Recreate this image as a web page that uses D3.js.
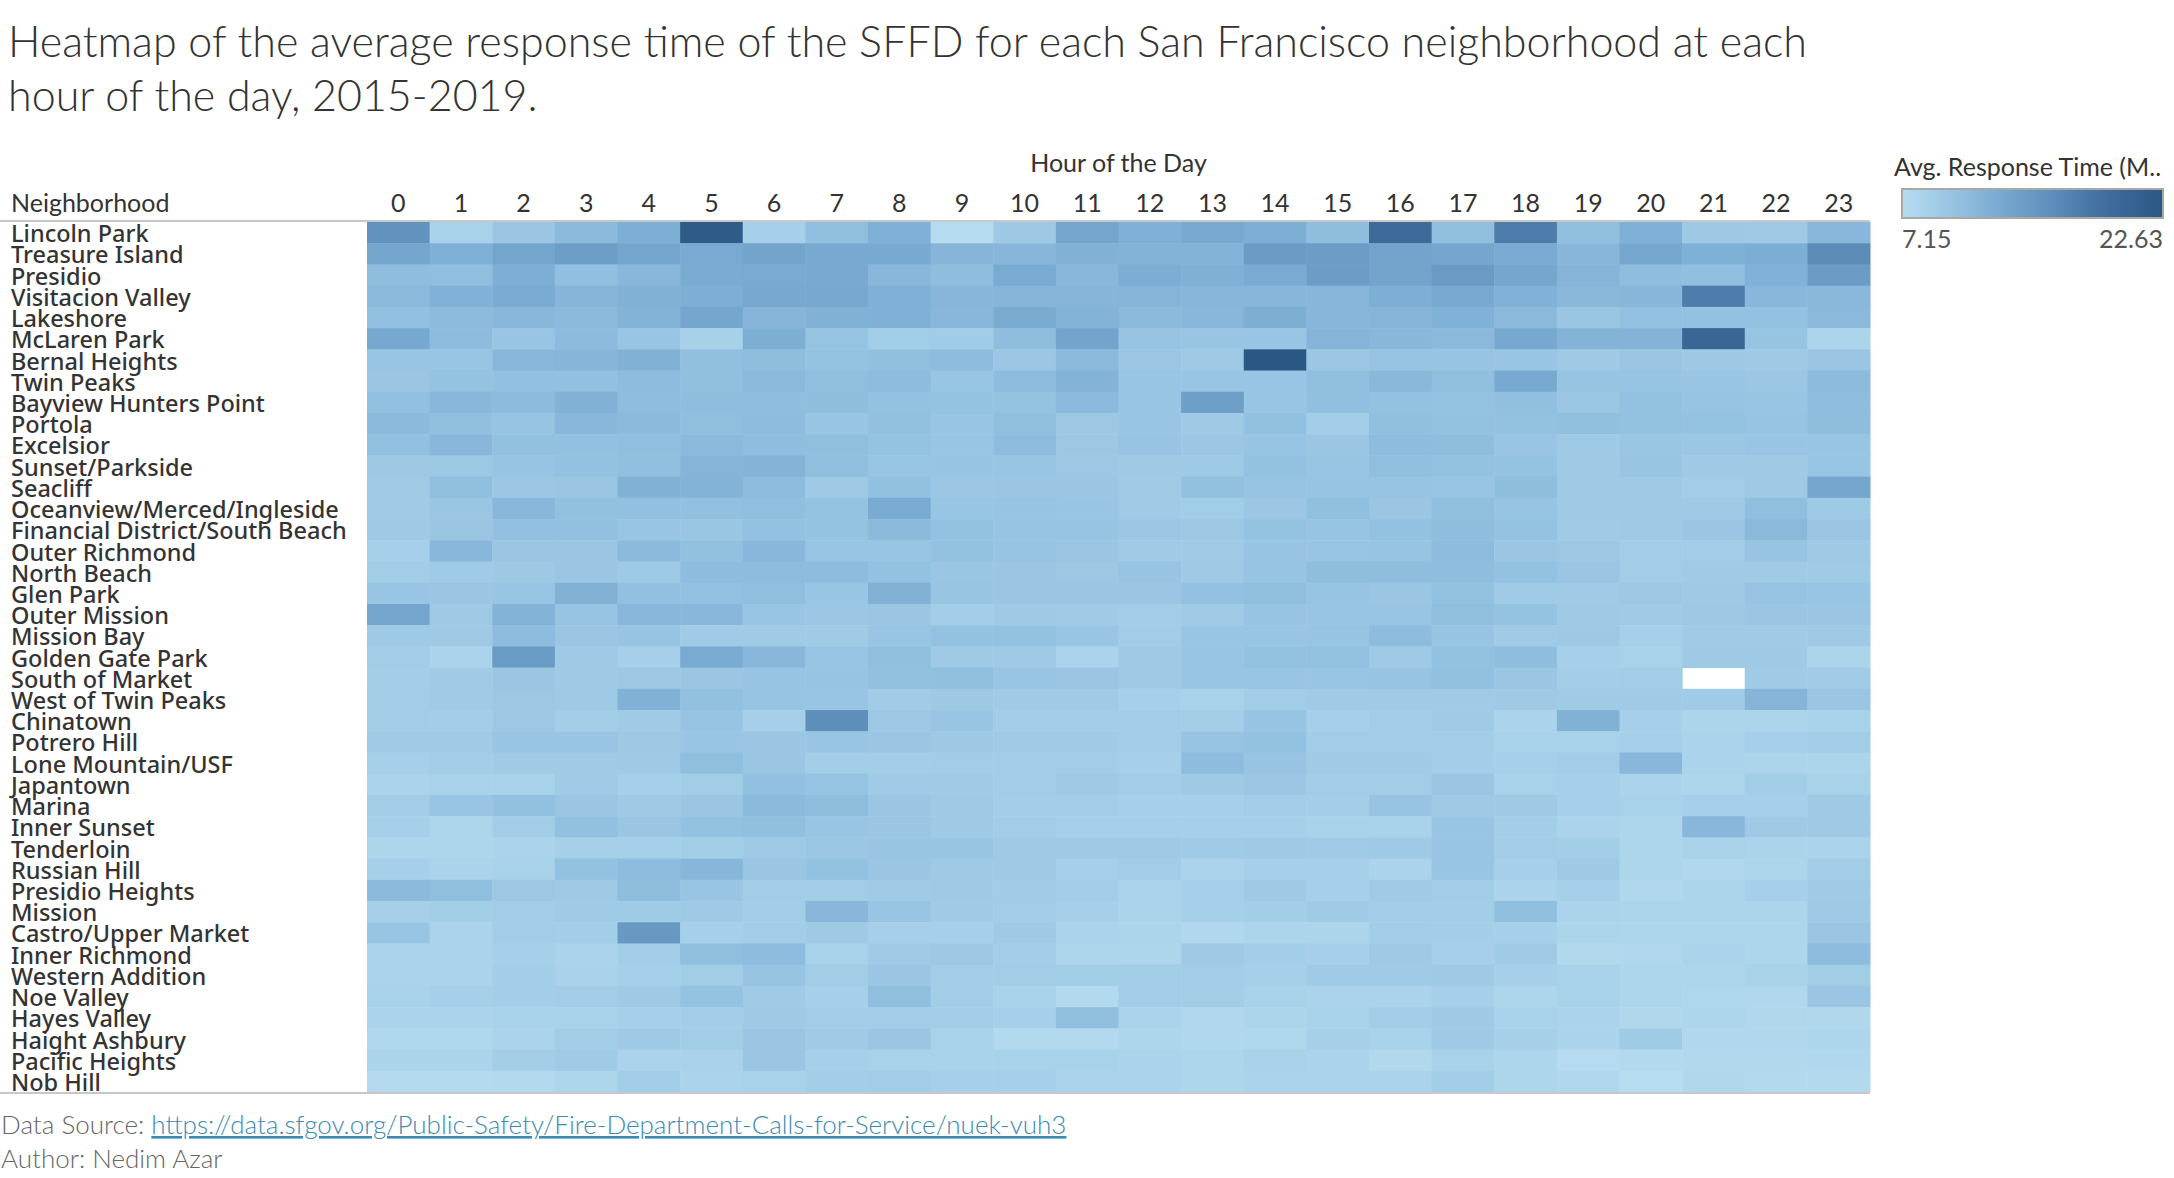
<!DOCTYPE html>
<html>
<head>
<meta charset="utf-8">
<script src="https://cdn.jsdelivr.net/npm/d3@7"></script>
<style>
  body { margin: 0; background: #fff; }
  svg { display: block; }
</style>
</head>
<body>
<svg id="chart"></svg>
<script>
var width = 2174,
    height = 1178;

var neighborhoods = [
    "Lincoln Park", "Treasure Island", "Presidio", "Visitacion Valley", "Lakeshore",
    "McLaren Park", "Bernal Heights", "Twin Peaks", "Bayview Hunters Point", "Portola",
    "Excelsior", "Sunset/Parkside", "Seacliff", "Oceanview/Merced/Ingleside",
    "Financial District/South Beach", "Outer Richmond", "North Beach", "Glen Park",
    "Outer Mission", "Mission Bay", "Golden Gate Park", "South of Market",
    "West of Twin Peaks", "Chinatown", "Potrero Hill", "Lone Mountain/USF", "Japantown",
    "Marina", "Inner Sunset", "Tenderloin", "Russian Hill", "Presidio Heights", "Mission",
    "Castro/Upper Market", "Inner Richmond", "Western Addition", "Noe Valley",
    "Hayes Valley", "Haight Ashbury", "Pacific Heights", "Nob Hill"
];

var hourLabels = ["0", "1", "2", "3", "4", "5", "6", "7", "8", "9", "10", "11",
    "12", "13", "14", "15", "16", "17", "18", "19", "20", "21", "22", "23"];

// avg response time (minutes), one row per neighborhood, one value per hour
var responseTimes = [
    [15.5, 8.5, 9.8, 11.2, 12.5, 22.0, 8.7, 10.8, 12.3, 7.3, 9.5, 13.5, 12.3, 13.0, 12.5, 10.9, 19.8, 10.8, 17.8, 10.8, 12.3, 9.5, 9.4, 11.5],
    [13.5, 12.3, 13.5, 14.3, 13.5, 12.9, 13.6, 13.0, 13.0, 11.7, 11.6, 12.1, 12.0, 12.0, 14.6, 14.4, 13.6, 13.4, 12.9, 11.6, 13.2, 12.3, 12.6, 16.3],
    [10.9, 10.8, 12.5, 10.6, 11.5, 12.8, 12.9, 13.0, 11.5, 10.9, 12.9, 11.5, 12.6, 12.3, 12.9, 14.4, 13.6, 14.6, 13.4, 11.8, 10.9, 10.7, 12.2, 14.5],
    [11.2, 12.2, 12.8, 11.7, 12.1, 12.5, 13.1, 13.1, 12.3, 11.6, 11.7, 11.7, 11.8, 11.6, 11.6, 11.6, 12.5, 13.0, 12.2, 11.4, 11.6, 17.8, 11.5, 11.4],
    [10.5, 11.1, 11.5, 11.2, 12.0, 13.4, 11.7, 12.1, 12.3, 11.5, 12.8, 11.9, 11.3, 11.5, 12.5, 11.6, 11.8, 12.2, 11.3, 9.8, 10.4, 10.4, 10.4, 11.3],
    [13.1, 11.0, 10.0, 11.1, 10.0, 8.6, 12.5, 10.2, 9.0, 9.1, 10.9, 13.6, 10.1, 10.0, 10.0, 11.8, 11.5, 11.3, 13.1, 12.0, 12.0, 20.3, 10.1, 8.2],
    [10.0, 10.0, 11.5, 11.7, 12.1, 10.6, 10.9, 10.3, 10.7, 11.0, 9.7, 11.3, 9.7, 9.3, 22.63, 9.7, 10.1, 10.1, 10.0, 9.3, 9.8, 9.5, 9.4, 9.8],
    [9.8, 10.3, 10.5, 10.5, 11.0, 10.7, 11.3, 10.8, 11.0, 10.0, 11.0, 11.9, 10.0, 10.0, 10.0, 10.8, 11.4, 10.8, 13.0, 10.1, 10.1, 10.0, 9.7, 11.1],
    [10.5, 11.5, 11.1, 12.1, 10.9, 10.9, 10.9, 10.9, 10.4, 10.3, 10.3, 11.2, 10.0, 14.2, 10.0, 10.6, 10.4, 10.3, 10.6, 9.7, 10.4, 10.1, 10.0, 10.9],
    [11.2, 10.7, 10.1, 11.5, 11.2, 10.8, 11.0, 10.0, 10.5, 10.0, 10.8, 9.6, 10.0, 9.4, 10.5, 8.9, 10.7, 10.4, 10.4, 10.7, 10.4, 10.3, 10.1, 10.9],
    [10.5, 11.5, 10.5, 10.5, 10.8, 11.2, 10.9, 10.8, 10.3, 10.0, 11.0, 9.6, 10.1, 9.7, 10.1, 9.8, 11.0, 10.9, 10.0, 9.4, 9.8, 9.7, 10.0, 10.0],
    [9.6, 9.6, 10.1, 10.4, 10.6, 11.8, 11.9, 10.8, 10.0, 10.1, 10.0, 9.6, 9.4, 9.4, 10.4, 10.0, 10.6, 10.4, 10.3, 9.4, 10.0, 9.4, 9.4, 10.0],
    [9.2, 10.8, 9.7, 9.8, 12.1, 11.9, 11.0, 9.4, 10.5, 9.7, 9.8, 9.8, 9.2, 10.5, 10.1, 10.1, 10.1, 10.0, 10.9, 9.4, 9.4, 9.0, 9.3, 13.3],
    [9.2, 9.8, 11.5, 10.5, 10.5, 10.5, 10.8, 10.3, 12.9, 10.0, 10.1, 10.0, 9.2, 9.0, 9.7, 10.7, 9.8, 10.8, 10.1, 9.4, 9.4, 9.4, 10.8, 9.4],
    [9.4, 9.8, 10.5, 10.5, 10.0, 9.8, 10.4, 10.3, 11.2, 10.4, 10.1, 10.1, 9.7, 9.6, 10.3, 10.1, 10.4, 10.9, 10.3, 9.2, 9.4, 9.8, 11.3, 9.8],
    [8.7, 11.5, 9.8, 9.8, 11.2, 10.5, 11.5, 10.0, 10.0, 10.4, 10.1, 9.8, 9.2, 9.2, 10.1, 10.0, 10.1, 11.0, 9.8, 9.6, 9.0, 9.0, 10.1, 9.4],
    [9.0, 9.2, 9.5, 9.8, 9.4, 11.0, 11.0, 11.0, 10.4, 9.8, 9.8, 9.6, 10.1, 9.4, 10.1, 10.9, 10.9, 10.9, 10.4, 9.8, 9.0, 9.2, 9.2, 9.2],
    [10.0, 9.8, 10.0, 12.1, 10.5, 10.4, 10.8, 10.0, 12.1, 10.0, 9.8, 9.8, 9.8, 10.4, 10.8, 10.1, 9.8, 10.4, 9.2, 9.2, 9.6, 9.4, 10.1, 10.0],
    [13.5, 9.4, 12.0, 10.1, 11.5, 11.5, 10.0, 9.7, 9.8, 8.9, 9.4, 9.2, 9.0, 9.2, 10.1, 10.0, 10.0, 10.8, 10.3, 9.4, 9.2, 9.6, 9.8, 9.8],
    [9.4, 9.4, 11.0, 9.8, 10.1, 9.2, 9.2, 9.2, 10.0, 10.4, 10.4, 10.0, 9.0, 10.0, 10.0, 10.1, 11.0, 10.1, 9.2, 9.5, 8.7, 9.2, 9.2, 9.4],
    [9.0, 8.3, 14.5, 9.3, 8.7, 12.9, 11.5, 10.0, 10.8, 9.4, 9.4, 8.3, 9.4, 10.0, 10.4, 10.4, 9.4, 10.4, 10.9, 8.7, 8.5, 9.4, 9.4, 8.2],
    [8.9, 9.2, 9.8, 9.4, 9.6, 9.8, 10.1, 10.1, 10.5, 10.7, 10.0, 9.8, 9.4, 10.0, 10.0, 10.0, 10.1, 10.5, 9.8, 8.9, 9.0, null, 9.2, 9.1],
    [9.0, 9.2, 9.6, 9.4, 12.1, 10.5, 10.1, 10.0, 9.1, 9.5, 9.2, 9.2, 8.7, 8.5, 9.0, 9.2, 9.2, 9.2, 9.4, 9.2, 9.2, 9.2, 11.8, 9.8],
    [9.0, 8.9, 9.6, 8.9, 9.2, 10.1, 8.7, 16.0, 9.6, 10.0, 9.0, 9.0, 9.0, 8.9, 10.1, 8.7, 9.0, 9.2, 8.3, 12.1, 8.7, 8.2, 8.2, 8.5],
    [9.2, 9.2, 10.0, 10.0, 9.5, 10.0, 9.8, 10.0, 9.8, 9.5, 9.2, 9.2, 9.0, 10.1, 10.4, 9.0, 9.0, 9.0, 8.5, 8.5, 8.7, 8.3, 8.7, 9.0],
    [8.7, 9.0, 9.2, 9.2, 9.4, 10.8, 9.8, 8.9, 8.9, 9.0, 9.0, 9.0, 8.7, 11.0, 10.1, 9.2, 9.2, 8.9, 8.7, 9.0, 11.5, 8.3, 8.2, 8.2],
    [8.3, 8.5, 8.5, 9.2, 8.7, 9.0, 10.5, 10.2, 9.2, 9.2, 9.0, 9.4, 9.0, 9.4, 9.7, 9.0, 9.0, 9.8, 8.5, 8.7, 8.3, 8.1, 8.9, 8.5],
    [9.0, 10.0, 10.5, 9.8, 9.4, 9.8, 11.2, 10.9, 9.8, 9.4, 8.9, 8.9, 8.7, 8.7, 9.0, 8.9, 10.1, 9.4, 9.4, 8.7, 8.5, 8.7, 8.7, 9.4],
    [8.7, 8.1, 9.0, 10.5, 9.8, 10.4, 10.7, 10.0, 9.8, 9.4, 9.0, 8.7, 8.7, 8.7, 8.7, 8.5, 8.5, 10.0, 8.9, 8.3, 8.1, 11.5, 9.4, 9.4],
    [8.1, 8.1, 8.3, 8.7, 8.7, 8.9, 9.4, 9.7, 10.0, 10.0, 9.4, 9.4, 9.4, 9.2, 9.4, 9.2, 9.4, 10.0, 9.0, 8.9, 8.1, 8.5, 8.3, 8.3],
    [8.7, 8.3, 8.5, 10.4, 11.0, 11.6, 9.8, 10.4, 9.8, 9.4, 9.4, 8.7, 9.0, 8.3, 8.7, 8.7, 8.3, 10.0, 8.7, 9.4, 8.1, 7.9, 8.1, 9.0],
    [11.2, 10.8, 9.6, 9.4, 10.9, 10.0, 9.0, 9.0, 9.2, 9.4, 9.1, 9.0, 8.3, 8.7, 9.4, 8.7, 9.2, 9.0, 8.3, 8.7, 7.9, 8.2, 8.7, 9.2],
    [8.7, 8.9, 9.0, 9.2, 9.2, 9.4, 8.9, 11.5, 10.0, 9.2, 9.0, 8.7, 8.3, 8.7, 8.9, 9.2, 8.9, 8.9, 10.8, 8.3, 8.2, 8.2, 8.2, 9.4],
    [10.0, 8.3, 9.0, 8.9, 14.8, 8.7, 9.0, 9.4, 8.7, 8.7, 9.4, 8.3, 8.2, 7.9, 8.2, 8.2, 9.0, 8.9, 8.7, 8.2, 8.1, 8.1, 8.1, 9.8],
    [8.3, 8.3, 8.7, 8.3, 9.0, 10.8, 11.0, 8.5, 9.2, 9.6, 8.9, 8.1, 8.1, 9.4, 8.9, 8.7, 9.4, 8.7, 9.2, 7.7, 7.9, 8.3, 8.1, 11.0],
    [8.3, 8.3, 8.9, 8.4, 8.7, 9.0, 10.1, 9.0, 9.8, 9.0, 9.0, 8.9, 9.0, 9.0, 8.7, 9.2, 9.2, 9.4, 8.7, 8.5, 8.1, 8.1, 8.5, 9.0],
    [8.5, 8.7, 8.9, 9.0, 9.4, 10.3, 9.2, 8.7, 10.8, 9.0, 8.5, 7.6, 9.0, 9.0, 8.5, 8.3, 8.3, 8.7, 8.1, 8.5, 8.1, 8.0, 7.9, 9.8],
    [8.3, 8.3, 8.5, 8.5, 8.7, 8.9, 9.4, 9.0, 9.0, 9.0, 8.7, 10.6, 8.3, 7.9, 8.2, 8.5, 9.0, 9.4, 8.5, 8.3, 7.8, 8.1, 7.8, 7.8],
    [7.9, 7.9, 8.3, 9.0, 9.4, 9.0, 9.8, 9.2, 9.8, 8.5, 7.6, 7.6, 8.1, 7.9, 8.0, 8.7, 8.5, 9.4, 8.7, 8.3, 9.2, 7.8, 7.8, 8.1],
    [8.3, 8.3, 8.9, 9.2, 8.3, 8.4, 9.8, 8.7, 8.5, 8.5, 8.5, 8.5, 8.3, 8.1, 8.4, 8.3, 7.7, 8.5, 8.1, 7.4, 7.6, 7.7, 7.7, 7.9],
    [7.5, 7.5, 7.6, 8.1, 8.9, 8.3, 8.5, 8.9, 9.0, 8.7, 8.7, 8.3, 8.3, 8.1, 8.3, 8.3, 8.3, 8.9, 8.1, 7.9, 7.2, 7.8, 7.6, 7.6]
];

var legendRange = [7.15, 22.63];

var svg = d3.select("#chart")
    .attr("width", width)
    .attr("height", height)
    .style("font-family", "Lato, 'Open Sans', sans-serif");

// layout
var gridLeft = 367, gridRight = 1870, gridTop = 222, gridBottom = 1092;

var x = d3.scaleBand()
    .domain(hourLabels)
    .range([gridLeft, gridRight]);

var y = d3.scaleBand()
    .domain(neighborhoods)
    .range([gridTop, gridBottom]);

// tableau-like sequential blue
var color = d3.scaleLinear()
    .domain([7.15, 9, 11, 13, 16, 19, 22.63])
    .range(["#b9ddf1", "#a2cde7", "#8dbcde", "#78a9d0", "#5e8fbb", "#426f9f", "#2a5783"]);

// title
var title = svg.append("text")
    .attr("fill", "#333")
    .style("font-size", "43px")
    .style("font-weight", 300);
title.append("tspan").attr("x", 8).attr("y", 57)
    .text("Heatmap of the average response time of the SFFD for each San Francisco neighborhood at each");
title.append("tspan").attr("x", 8).attr("y", 111)
    .text("hour of the day, 2015-2019.");

// cells
var cells = [];
responseTimes.forEach(function(row, i) {
    row.forEach(function(v, j) {
        if (v != null) cells.push({n: neighborhoods[i], h: hourLabels[j], v: v});
    });
});

svg.append("g")
    .selectAll("rect")
    .data(cells)
    .enter().append("rect")
        .attr("x", function(d) { return x(d.h); })
        .attr("y", function(d) { return y(d.n); })
        .attr("width", x.bandwidth() + 0.5)
        .attr("height", y.bandwidth() + 0.5)
        .attr("fill", function(d) { return color(d.v); });

// header / footer rules
svg.append("line")
    .attr("x1", 0).attr("x2", gridRight)
    .attr("y1", gridTop - 1).attr("y2", gridTop - 1)
    .attr("stroke", "#c8c8c8").attr("stroke-width", 2);
svg.append("line")
    .attr("x1", 0).attr("x2", gridRight)
    .attr("y1", gridBottom + 1).attr("y2", gridBottom + 1)
    .attr("stroke", "#c8c8c8").attr("stroke-width", 2);

// column axis
var xAxis = svg.append("g")
    .attr("transform", "translate(0," + (gridTop - 1) + ")")
    .call(d3.axisTop(x).tickSize(0).tickPadding(9));
xAxis.select(".domain").remove();
xAxis.selectAll("text")
    .attr("fill", "#333")
    .style("font-family", "Lato, sans-serif")
    .style("font-size", "25px");

svg.append("text")
    .attr("x", (gridLeft + gridRight) / 2)
    .attr("y", 172)
    .attr("text-anchor", "middle")
    .attr("fill", "#333")
    .style("font-size", "25px")
    .text("Hour of the Day");

svg.append("text")
    .attr("x", 11)
    .attr("y", 212)
    .attr("fill", "#333")
    .style("font-size", "25px")
    .text("Neighborhood");

// row labels
svg.append("g")
    .selectAll("text")
    .data(neighborhoods)
    .enter().append("text")
        .attr("x", 11)
        .attr("y", function(d) { return y(d) + y.bandwidth() - 1; })
        .attr("fill", "#333")
        .style("font-family", "'Noto Sans', sans-serif")
        .style("font-size", "23.5px")
        .style("font-weight", 500)
        .text(function(d) { return d; });

// legend
var lg = svg.append("defs").append("linearGradient")
    .attr("id", "ramp");
d3.range(0, 1.0001, 0.05).forEach(function(t) {
    lg.append("stop")
        .attr("offset", (t * 100) + "%")
        .attr("stop-color", color(legendRange[0] + t * (legendRange[1] - legendRange[0])));
});

svg.append("text")
    .attr("x", 1894)
    .attr("y", 176)
    .attr("fill", "#333")
    .style("font-size", "25px")
    .text("Avg. Response Time (M..");

svg.append("rect")
    .attr("x", 1902).attr("y", 189)
    .attr("width", 261).attr("height", 29)
    .attr("fill", "url(#ramp)")
    .attr("stroke", "#a8a8a8")
    .attr("stroke-width", 2);

svg.append("text")
    .attr("x", 1902).attr("y", 248)
    .attr("fill", "#555")
    .style("font-size", "25px")
    .text(legendRange[0].toFixed(2));
svg.append("text")
    .attr("x", 2163).attr("y", 248)
    .attr("text-anchor", "end")
    .attr("fill", "#555")
    .style("font-size", "25px")
    .text(legendRange[1].toFixed(2));

// footer
var src = svg.append("text")
    .attr("x", 1).attr("y", 1134)
    .attr("fill", "#666")
    .style("font-size", "26px")
    .style("font-weight", 300);
src.append("tspan").text("Data Source: ");
src.append("tspan")
    .attr("fill", "#3c8ab4")
    .style("text-decoration", "underline")
    .text("https://data.sfgov.org/Public-Safety/Fire-Department-Calls-for-Service/nuek-vuh3");

svg.append("text")
    .attr("x", 1).attr("y", 1168)
    .attr("fill", "#666")
    .style("font-size", "26px")
    .style("font-weight", 300)
    .text("Author: Nedim Azar");
</script>
</body>
</html>
